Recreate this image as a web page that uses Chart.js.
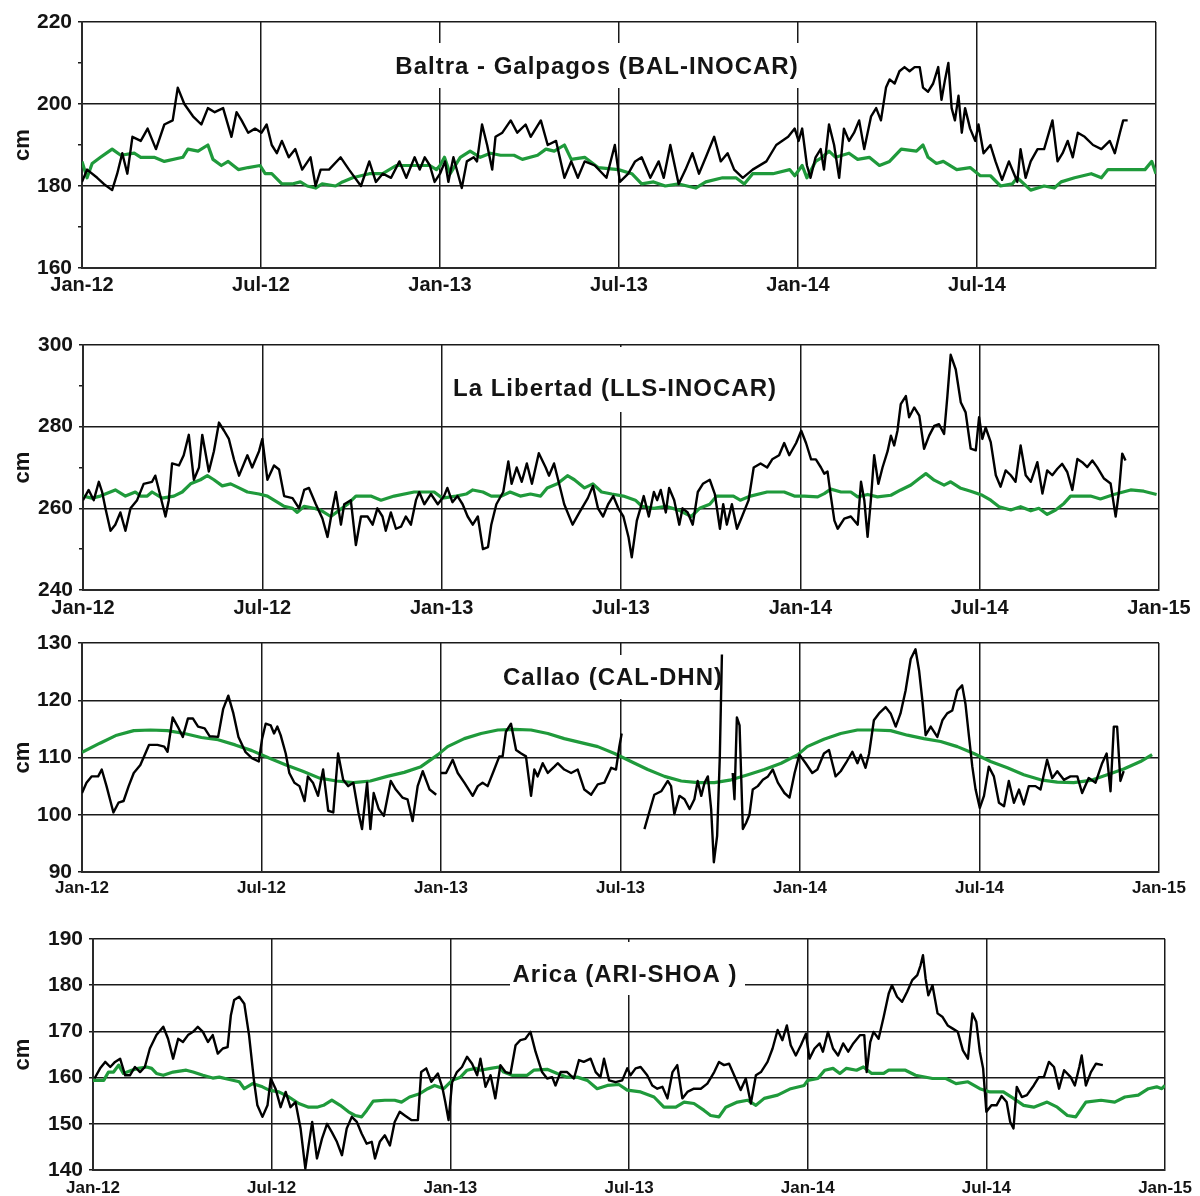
<!DOCTYPE html>
<html>
<head>
<meta charset="utf-8">
<script src="https://cdn.jsdelivr.net/npm/chart.js@4.4.1/dist/chart.umd.min.js"></script>
<style>
  html, body { margin: 0; padding: 0; background: #fff; }
  #wrap { position: relative; width: 1200px; height: 1196px; background: #fff; }
  .panel { position: absolute; left: 0; width: 1200px; }
  canvas { display: block; }
</style>
</head>
<body>
<div id="wrap">
  <div class="panel" id="p1"><canvas id="c1"></canvas></div>
  <div class="panel" id="p2"><canvas id="c2"></canvas></div>
  <div class="panel" id="p3"><canvas id="c3"></canvas></div>
  <div class="panel" id="p4"><canvas id="c4"></canvas></div>
</div>
<script>
// Time axis: months elapsed since 1 Jan 2012, one labelled tick every six months
const tickLabels = ['Jan-12', 'Jul-12', 'Jan-13', 'Jul-13', 'Jan-14', 'Jul-14', 'Jan-15'];
const monthsPerTick = 6;

// ---- Baltra - Galapagos: observed sea level [month, cm] ----
const baltraObserved = [
  [0,181],[0.17,184],[0.51,182],[0.73,180.5],[1.01,179],[1.18,183],[1.35,188],[1.52,183],[1.69,192],[1.97,191],
  [2.2,194],[2.48,189],[2.76,195],[3.04,196],[3.21,204],[3.43,200],[3.72,197],[4.0,195],[4.22,199],[4.45,198],
  [4.73,199],[5.01,192],[5.18,198],[5.35,196],[5.57,193],[5.8,194],[6.02,193],[6.19,195],[6.36,190],[6.53,188],
  [6.7,191],[6.93,187],[7.15,189],[7.38,184],[7.66,187],[7.83,180],[8.0,184],[8.28,184],[8.67,187],[8.95,184],
  [9.35,180],[9.63,186],[9.85,181],[10.08,183],[10.36,182],[10.64,186],[10.87,182],[11.15,187],[11.32,184],[11.49,187],
  [11.66,185],[11.82,181],
  [12.0,183],[12.17,186],[12.28,181],[12.45,187],[12.73,179.5],[12.9,186],[13.13,187],[13.24,186],[13.41,195],[13.58,190],
  [13.75,184],[13.86,192],[14.09,193],[14.37,196],[14.59,193],[14.87,195],[15.04,192],[15.38,196],[15.61,190],[15.89,191],
  [16.17,182],[16.4,186],[16.62,182],[16.85,186],[17.19,185],[17.58,182],[17.86,190],[18.03,181],[18.31,183],[18.54,186],
  [18.76,187],[19.05,182],[19.33,186],[19.5,182],[19.72,190],[20.0,180.5],[20.23,184],[20.46,188],[20.68,183],[20.91,187],
  [21.19,192],[21.41,186],[21.64,188],[21.86,184],[22.15,182],[22.48,184],[22.94,186],[23.27,190],[23.67,192],[23.89,194],
  [24.02,191],[24.14,194],[24.3,185],[24.42,182],[24.59,187],[24.76,189],[24.87,184],[25.04,195],[25.21,190],[25.38,182],
  [25.54,194],[25.71,191],[25.88,193],[26.05,196],[26.22,189],[26.45,197],[26.62,199],[26.78,196],[26.95,204],[27.07,206],
  [27.24,205],[27.4,208],[27.57,209],[27.74,208],[27.91,209],[28.08,209],[28.19,204],[28.36,203],[28.53,205],[28.7,209],
  [28.81,201],[28.93,206],[29.04,210],[29.15,199],[29.26,196],[29.38,202],[29.49,193],[29.6,199],[29.77,194],[29.94,191],
  [30.05,195],[30.22,188],[30.45,190],[30.62,186],[30.84,181.5],[31.07,186],[31.24,183],[31.35,181],[31.46,189],[31.63,182],
  [31.8,186],[32.03,189],[32.25,189],[32.53,196],[32.7,186],[32.87,188],[33.04,191],[33.21,187],[33.38,193],[33.61,192],
  [33.89,190],[34.17,189],[34.45,191],[34.62,188],[34.79,193],[34.9,196],[35.05,196]
];
// ---- Baltra - Galapagos: reference level [month, cm] ----
const baltraReference = [
  [0,186],[0.17,182],[0.34,185.5],[0.62,187],[1.01,189],[1.3,187.5],[1.75,188],[1.97,187],[2.42,187],[2.76,186],
  [3.38,187],[3.55,189],[3.89,188.5],[4.22,190],[4.39,186.5],[4.67,185],[4.9,186],[5.24,184],[5.57,184.5],[5.97,185],
  [6.14,183],[6.36,183],[6.7,180.5],[7.04,180.5],[7.32,181],[7.55,180],[7.83,179.5],[8.05,180.5],[8.5,180],[8.73,181],
  [9.07,182],[9.63,183],[10.08,183],[10.53,185],[11.09,185],[11.66,185],[11.88,184],[12.0,185],[12.15,187],[12.34,183],
  [12.68,187],[13.01,188.5],[13.35,187],[13.69,188],[14.03,187.5],[14.48,187.5],[14.76,186.5],[15.27,187.5],[15.55,189],[15.83,188.5],
  [16.17,190],[16.4,186.5],[16.85,187],[17.3,184.5],[17.98,184],[18.43,183],[18.76,180.5],[19.16,181],[19.55,180],[20.0,180.5],
  [20.57,179.5],[20.91,181],[21.47,182],[21.92,182],[22.2,180.5],[22.48,183],[23.16,183],[23.72,184],[23.89,182.5],[24.14,185],
  [24.3,182],[24.59,186],[24.81,187],[25.04,188.5],[25.26,187],[25.71,188],[26.0,186.5],[26.39,187],[26.73,185],[27.07,186],
  [27.46,189],[27.97,188.5],[28.19,190],[28.36,187],[28.64,185.5],[28.87,186],[29.32,184],[29.77,184.5],[30.11,182.5],[30.45,182.5],
  [30.79,180],[31.18,180.5],[31.35,182],[31.8,179],[32.25,180],[32.59,179.5],[32.82,181],[33.27,182],[33.83,183],[34.17,182],
  [34.39,184],[34.96,184],[35.63,184],[35.86,186],[36,183]
];

// ---- La Libertad: observed sea level [month, cm] ----
const libertadObserved = [
  [0,262],[0.19,264.5],[0.36,262],[0.53,266.5],[0.64,264],[0.75,260],[0.92,254.5],[1.08,256],[1.25,259],[1.42,254.5],
  [1.59,260],[1.81,262],[2.03,266],[2.31,266.5],[2.42,268],[2.59,263],[2.76,258],[2.87,262],[2.98,271],[3.21,270.5],
  [3.37,273],[3.54,278],[3.71,267],[3.88,270],[3.99,278],[4.21,269],[4.38,274],[4.55,281],[4.72,279],[4.88,277],
  [5.05,272],[5.22,268],[5.5,273],[5.66,270],[5.89,274],[6.0,277],[6.17,267],[6.39,270.5],[6.56,269.5],[6.73,263],
  [7.01,262.5],[7.23,260],[7.4,264.5],[7.56,265],[7.79,261],[8.01,257.5],[8.18,253],[8.35,260],[8.46,264],[8.63,256],
  [8.74,261],[8.96,262],[9.13,251],[9.3,258],[9.52,258],[9.69,256],[9.85,260],[10.02,258],[10.13,254.5],[10.3,259],
  [10.47,255],[10.64,255.5],[10.8,258],[10.97,256],[11.14,262],[11.25,264],[11.42,261],[11.64,263.5],[11.87,261],
  [12.08,263],[12.19,265],[12.36,261.5],[12.53,263],[12.7,261],[12.87,258],[13.04,256],[13.21,258],[13.38,250],[13.55,250.5],
  [13.66,256],[13.83,261],[14.06,264],[14.23,271.5],[14.34,266],[14.51,270],[14.68,266.5],[14.85,271],[15.02,266],[15.25,273.5],
  [15.48,270],[15.59,268],[15.76,271],[15.93,266],[16.1,261],[16.38,256],[16.61,259],[16.89,262.5],[17.06,265.5],[17.23,260],
  [17.4,258],[17.57,261],[17.74,263],[17.91,260],[18.08,258],[18.25,253],[18.36,248],[18.53,257],[18.65,260],[18.76,263],
  [18.93,258],[19.1,264],[19.21,262],[19.33,264.5],[19.5,259],[19.61,265],[19.78,262],[19.95,256],[20.06,260],[20.23,259],
  [20.4,256],[20.57,264],[20.74,266],[20.97,267],[21.14,263.5],[21.31,255],[21.42,261],[21.54,256],[21.71,261],[21.88,255],
  [22.05,258],[22.27,262],[22.44,270],[22.67,271],[22.89,270],[23.06,272],[23.29,273],[23.46,276],[23.63,273],[23.86,276],
  [24.03,279],[24.19,276],[24.36,272],[24.52,272],[24.69,270],[24.8,268.5],[24.91,269],[25.02,263],[25.14,257],[25.25,255],
  [25.47,257.5],[25.69,258],[25.92,256],[26.03,266.5],[26.14,262],[26.25,253],[26.36,262],[26.47,273],[26.61,266],[26.75,270],
  [26.92,274],[27.03,277.8],[27.14,275.4],[27.25,279],[27.36,285.5],[27.53,287.5],[27.64,282.3],[27.81,284.7],[27.98,282.7],[28.14,274.6],
  [28.31,277.8],[28.48,280.2],[28.64,280.6],[28.81,278.2],[28.92,287.5],[29.03,297.6],[29.2,294],[29.37,285.9],[29.53,283.5],[29.7,274.6],
  [29.87,274.2],[29.98,282.3],[30.09,277],[30.2,279.8],[30.37,276.2],[30.54,268.1],[30.7,265.3],[30.87,269.3],[31.04,268.1],[31.2,266.5],
  [31.37,275.4],[31.54,268.1],[31.71,266.5],[31.93,271.3],[32.1,263.6],[32.26,269.3],[32.43,268.1],[32.6,269.7],[32.76,270.9],[32.93,268.9],
  [33.1,264.5],[33.27,272.1],[33.43,271.3],[33.6,270.1],[33.77,271.7],[33.93,270.1],[34.16,267.3],[34.38,266.1],[34.55,258],[34.66,264],
  [34.77,273.4],[34.88,271.7]
];
// ---- La Libertad: reference level [month, cm] ----
const libertadReference = [
  [0,263],[0.3,262.5],[0.58,263],[1.08,264.5],[1.42,263],[1.75,264],[1.92,263],[2.15,263],[2.31,264],[2.65,262.5],
  [3.04,263],[3.32,264],[3.6,266],[3.93,267],[4.16,268],[4.38,267],[4.66,265.5],[4.94,266],[5.22,265],[5.5,264],
  [5.89,263.5],[6.17,263],[6.5,261.5],[6.73,260.5],[7.01,260],[7.17,259],[7.4,260.5],[7.73,260],[7.96,259.5],[8.29,258],
  [8.57,259.5],[8.85,261],[9.13,263],[9.63,263],[9.97,262],[10.41,263],[11.08,264],[11.75,264],[12.02,262.5],[12.48,263],
  [12.82,263.5],[13.04,264.5],[13.38,264],[13.66,263],[14.0,263],[14.29,264],[14.63,263],[14.97,263.5],[15.31,263],[15.53,265],
  [15.87,266],[16.21,268],[16.44,267],[16.78,265],[17.06,266],[17.35,264],[17.69,263.5],[18.08,263],[18.48,262],[18.7,260.5],
  [19.1,260],[19.5,260.5],[19.95,259.5],[20.35,258],[20.63,260],[20.97,261],[21.2,263],[21.76,263],[21.99,262],[22.33,263],
  [22.89,264],[23.46,264],[23.8,263],[24.13,263],[24.58,262.8],[24.8,263.6],[25.02,264.7],[25.36,264],[25.69,264],[25.92,262.8],
  [26.25,263.4],[26.58,262.8],[27.03,263.2],[27.36,264.5],[27.7,265.7],[27.98,267.3],[28.2,268.5],[28.48,266.9],[28.81,265.7],[29.03,266.5],
  [29.37,264.9],[29.7,264.2],[30.09,263.2],[30.37,262],[30.65,260.4],[31.04,259.6],[31.37,260.4],[31.71,259.4],[31.98,260],[32.26,258.5],
  [32.54,259.6],[32.82,261.2],[33.04,263],[33.71,263],[34.04,262.3],[34.49,263.4],[35.05,264.5],[35.49,264.2],[35.92,263.4]
];

// ---- Callao: observed sea level [month, cm]; null marks a break in the record ----
const callaoObserved = [
  [0,103.8],[0.15,105.6],[0.32,106.7],[0.54,106.7],[0.66,107.9],[0.82,105],[1.05,100.4],[1.22,102.1],[1.39,102.4],[1.56,105],
  [1.73,107.3],[1.95,108.7],[2.24,112.2],[2.52,112.2],[2.75,111.9],[2.86,111],[3.03,117],[3.2,115.4],[3.37,113.6],[3.54,116.8],
  [3.71,116.8],[3.88,115.4],[4.1,115.1],[4.27,113.7],[4.55,113.6],[4.72,118.5],[4.89,120.8],[5.06,117.7],[5.23,113.6],[5.46,111],
  [5.68,109.9],[5.91,109.3],[6.02,113.3],[6.14,115.9],[6.31,115.6],[6.42,114.2],[6.53,115.4],[6.64,113.9],[6.81,110.7],[6.93,107.3],
  [7.1,105.6],[7.27,105],[7.44,102.4],[7.55,106.7],[7.72,105.6],[7.89,103.3],[8.06,107.9],[8.23,100.7],[8.4,100.4],[8.56,110.7],
  [8.73,106.1],[8.9,105],[9.07,105.6],[9.24,100.4],[9.36,97.5],[9.53,105.6],[9.64,97.5],[9.75,103.8],[9.92,101],[10.09,99.8],
  [10.32,105.9],[10.49,104.4],[10.71,103],[10.88,102.7],[11.05,98.9],[11.22,105],[11.39,107.6],[11.62,104.4],[11.84,103.5],
  [11.92,null],
  [12.0,107.3],[12.17,107.3],[12.39,109.6],[12.56,107.3],[12.78,105.6],[13.06,103.3],[13.23,105],[13.39,105.6],[13.56,105],[13.78,107.9],
  [13.95,110.2],[14.06,110.2],[14.17,114.5],[14.34,115.9],[14.51,111.3],[14.68,110.7],[14.84,110.2],[15.01,103.3],[15.12,107.9],[15.23,106.7],
  [15.4,109],[15.57,107.3],[15.79,108.4],[15.9,109],[16.12,107.9],[16.35,107.3],[16.57,107.9],[16.79,104.4],[17.02,103.5],[17.24,105.3],
  [17.46,105.6],[17.69,108.2],[17.85,107.9],[17.96,111.9],[18.04,114.2],
  [18.4,null],
  [18.8,97.5],[19.02,101.5],[19.13,103.5],[19.36,104.1],[19.58,105.9],[19.69,105],[19.8,100.1],[19.97,103.3],[20.14,102.7],[20.31,101],
  [20.47,102.7],[20.58,105.9],[20.7,103.3],[20.81,105.6],[20.92,106.7],[21.03,101],[21.12,91.7],[21.23,96.3],[21.32,110.2],[21.39,128],
  [21.55,null],
  [21.75,107.3],[21.81,102.7],[21.89,117],[21.98,115.6],[22.09,97.5],[22.2,98.6],[22.31,100],[22.42,104.4],[22.59,105],[22.76,106.1],
  [22.93,106.7],[23.09,107.9],[23.26,105.6],[23.48,103.8],[23.65,103],[23.82,107.3],[23.98,110.5],[24.19,109],[24.41,107.3],[24.58,107.9],
  [24.8,110.7],[24.97,111.3],[25.19,106.7],[25.36,107.6],[25.53,109],[25.75,111],[25.92,109],[26.03,110.5],[26.19,108.2],[26.31,110.7],
  [26.47,116.5],[26.64,117.7],[26.86,118.8],[27.03,117.7],[27.2,115.4],[27.36,117.7],[27.53,121.7],[27.7,127.2],[27.86,128.9],[27.98,125.2],
  [28.09,120],[28.2,113.9],[28.37,115.4],[28.59,113.6],[28.76,116.5],[28.92,117.7],[29.09,118.2],[29.26,121.7],[29.42,122.6],[29.53,119.4],
  [29.65,113.6],[29.76,108.4],[29.87,104.4],[30.01,101.2],[30.15,103.3],[30.31,108.4],[30.48,106.7],[30.65,102.1],[30.82,101.5],[30.98,105.9],
  [31.15,102.1],[31.32,104.4],[31.48,101.8],[31.65,105],[31.87,105],[32.04,104.4],[32.26,109.6],[32.43,106.4],[32.6,107.6],[32.82,106.1],
  [33.04,106.7],[33.27,106.7],[33.43,103.8],[33.65,106.4],[33.88,105.6],[34.1,109],[34.25,110.7],[34.38,104.1],[34.49,115.4],[34.6,115.4],
  [34.71,105.9],[34.82,107.6]
];
// ---- Callao: reference level [month, cm] ----
const callaoReference = [
  [0,110.9],[0.6,112.5],[1.16,113.9],[1.73,114.7],[2.29,114.8],[2.86,114.7],[3.42,114.2],[3.99,113.5],[4.55,113.1],[5.12,112.2],
  [5.68,111.2],[6.25,109.9],[6.82,108.7],[7.38,107.6],[7.94,106.4],[8.51,105.9],[9.07,105.6],[9.64,105.9],[10.2,106.7],[10.77,107.4],
  [11.33,108.4],[11.9,110.5],[12.22,111.9],[12.78,113.3],[13.34,114.2],[13.9,114.8],[14.45,114.9],[15.01,114.8],[15.57,114.2],[16.12,113.3],
  [16.68,112.6],[17.24,111.9],[17.8,110.7],[18.35,109.3],[18.91,107.9],[19.47,106.7],[20.03,105.9],[20.58,105.6],[21.14,105.6],[21.7,106.1],
  [22.26,107],[22.81,107.9],[23.37,109],[23.93,110.5],[24.24,111.9],[24.8,113.2],[25.36,114.2],[25.92,114.8],[26.47,114.8],[27.03,114.7],
  [27.59,113.9],[28.14,113.3],[28.7,112.8],[29.26,111.9],[29.81,110.7],[30.37,109.3],[30.93,108.2],[31.48,107],[32.04,106.1],[32.6,105.7],
  [33.15,105.6],[33.71,106],[34.27,107],[34.82,108],[35.38,109.3],[35.77,110.5]
];

// ---- Arica: observed sea level [month, cm] ----
const aricaObserved = [
  [0.05,159.8],[0.24,162],[0.41,163.4],[0.58,162.3],[0.74,163.4],[0.91,164.1],[1.08,160.5],[1.24,160.5],[1.41,162.3],[1.58,161.2],
  [1.74,162.3],[1.91,166.3],[2.13,169.2],[2.36,171],[2.52,168.4],[2.69,164.1],[2.86,168.4],[3.02,167.7],[3.19,169.2],[3.36,169.9],
  [3.52,171],[3.69,169.9],[3.86,167.7],[4.02,169.2],[4.19,165.2],[4.36,166.3],[4.52,166.6],[4.63,173.5],[4.74,176.8],[4.91,177.5],
  [5.08,176],[5.24,169.2],[5.41,159.1],[5.52,154],[5.69,151.5],[5.86,154],[5.97,159.8],[6.13,157.6],[6.3,153.6],[6.47,156.9],
  [6.63,153.6],[6.8,154.7],[6.97,149],[7.13,140.3],[7.24,145.3],[7.36,150.4],[7.52,142.5],[7.69,146.8],[7.86,150],[8.02,148.2],
  [8.19,146.1],[8.36,143.2],[8.52,149],[8.69,151.5],[8.86,150.4],[9.02,147.9],[9.19,145.7],[9.36,146.1],[9.47,142.5],[9.63,146.1],
  [9.8,147.5],[9.97,145.3],[10.13,150.4],[10.3,152.6],[10.47,151.8],[10.69,150.8],[10.91,150.8],[11.02,161.2],[11.19,162],[11.36,159.1],
  [11.58,160.9],[11.74,157.6],[11.83,154.7],[11.94,150.8],[12.06,159],[12.22,161.2],[12.39,162.3],[12.56,164.5],[12.73,163],[12.9,160.5],
  [13.01,164.1],[13.18,158],[13.35,160.5],[13.51,155.5],[13.68,162.7],[13.85,161.2],[14.02,160.9],[14.19,167],[14.35,168.1],[14.52,168.4],
  [14.69,169.9],[14.86,165.6],[15.08,161.2],[15.25,159.8],[15.42,160.1],[15.53,158.3],[15.7,161.2],[15.92,161.2],[16.15,159.8],[16.32,163.8],
  [16.48,163.4],[16.71,164.1],[16.88,161.2],[17.04,160.1],[17.16,164.1],[17.33,159.4],[17.55,159],[17.77,159.4],[17.94,162],[18.05,160.5],
  [18.22,162],[18.39,162.3],[18.61,160.5],[18.78,158.3],[18.95,157.6],[19.12,158],[19.29,155.5],[19.46,161.2],[19.62,162.7],[19.79,155.5],
  [19.96,156.9],[20.18,157.6],[20.41,157.6],[20.63,158.7],[20.86,161.2],[21.02,163.4],[21.19,162.7],[21.36,163],[21.53,160.5],[21.75,157.3],
  [21.92,159.8],[22.09,154.4],[22.26,160.5],[22.43,161.2],[22.65,163.4],[22.82,166.3],[22.99,170.3],[23.15,168.1],[23.3,171.3],[23.43,167],
  [23.6,164.8],[23.77,167],[23.94,169.5],[24.06,164.1],[24.23,166.3],[24.4,167.4],[24.51,165.6],[24.68,169.9],[24.85,166.3],[25.02,164.8],
  [25.19,167.4],[25.36,165.6],[25.53,167.4],[25.76,169.2],[25.9,169.2],[25.98,161.2],[26.1,167.7],[26.21,169.9],[26.38,168.4],[26.55,173.1],
  [26.72,178.2],[26.83,180],[27.0,177.5],[27.17,176.4],[27.34,178.6],[27.51,181.1],[27.68,182.2],[27.79,184.3],[27.87,186.5],[27.96,181.4],
  [28.05,177.8],[28.19,180],[28.36,173.9],[28.53,173.1],[28.7,171.3],[28.87,170.6],[29.04,169.9],[29.21,165.9],[29.38,164.1],[29.53,173.9],
  [29.66,172.1],[29.78,165.6],[29.89,162],[30.0,152.6],[30.17,154],[30.34,154],[30.51,156],[30.68,154.7],[30.8,150.4],[30.91,149],
  [31.02,158],[31.19,155.8],[31.36,156.2],[31.59,158.3],[31.76,160.1],[31.93,160.1],[32.1,163.4],[32.27,162.3],[32.44,157.6],[32.61,161.6],
  [32.83,160.1],[32.97,158.3],[33.12,162.3],[33.2,164.8],[33.34,158.3],[33.51,161.2],[33.68,163],[33.91,162.7]
];
// ---- Arica: reference level [month, cm] ----
const aricaReference = [
  [0,159.4],[0.36,159.4],[0.52,161.2],[0.69,161.2],[0.86,162.7],[1.02,160.9],[1.3,161.6],[1.52,162],[1.8,162.3],[1.97,162],
  [2.13,160.9],[2.36,160.5],[2.69,161.2],[3.13,161.6],[3.36,161.2],[3.69,160.5],[4.02,159.9],[4.24,160.1],[4.58,159.6],[4.91,159.1],
  [5.08,157.6],[5.36,158.7],[5.69,158],[5.91,157.3],[6.24,156.9],[6.58,155.8],[6.91,154.4],[7.24,153.6],[7.52,153.6],[7.74,154],
  [8.02,155.1],[8.3,154],[8.58,152.6],[8.8,151.8],[9.02,151.5],[9.19,152.9],[9.41,154.9],[9.8,155.1],[10.13,155.1],[10.36,154.7],
  [10.63,155.8],[10.97,156.5],[11.24,157.6],[11.47,158.3],[11.78,157.6],[12.06,159.4],[12.34,160.1],[12.56,161.6],[12.84,162],[13.01,161.6],
  [13.35,162],[13.63,162.3],[13.79,161.2],[14.07,160.5],[14.58,160.5],[14.8,161.6],[15.25,161.8],[15.59,160.9],[15.92,160.1],[16.26,160.1],
  [16.6,159.4],[16.93,157.6],[17.27,158.3],[17.66,158.5],[17.94,157.3],[18.39,156.9],[18.84,155.8],[19.17,153.6],[19.57,153.6],[19.85,154.7],
  [20.18,154.4],[20.52,152.9],[20.74,151.8],[21.02,151.5],[21.25,153.6],[21.64,154.7],[21.98,155.1],[22.26,154],[22.54,155.5],[22.99,156.2],
  [23.43,157.6],[23.88,158.3],[24.0,159.4],[24.34,159.8],[24.57,161.6],[24.85,162],[25.08,160.9],[25.3,162],[25.64,161.6],[25.87,162.3],
  [26.15,160.9],[26.55,160.9],[26.72,161.6],[27.28,161.6],[27.62,160.5],[28.19,159.8],[28.64,159.8],[28.98,158.7],[29.38,159.1],[29.78,157.6],
  [30.12,156.9],[30.57,156.9],[30.91,155.5],[31.25,154],[31.59,153.6],[32.04,154.7],[32.38,153.6],[32.72,151.8],[33.0,151.5],[33.34,154.7],
  [33.85,155.1],[34.31,154.7],[34.65,155.8],[35.1,156.2],[35.44,157.6],[35.72,158],[35.89,157.6],[36,158.3]
];

// ---- Page layout of the four stacked panels (page pixels) ----
const FONT = "'Liberation Sans', Arial, Helvetica, sans-serif";
const INK = '#141414';
const OBS_COLOR = '#000000';
const REF_COLOR = '#1f9a3b';

const panels = [
  { canvas: 'c1', holder: 'p1', top: 0, height: 300, left: 82, right: 1156, plotTop: 22, plotBottom: 268,
    yMin: 160, yMax: 220, yStep: 10, yMajor: 20, xFont: 20, xPad: 5, showLastTick: false,
    title: 'Baltra - Galpagos (BAL-INOCAR)', titleX: 597, titleY: 67, titleSize: 24, box: [385, 43, 808, 88],
    observed: baltraObserved, reference: baltraReference },
  { canvas: 'c2', holder: 'p2', top: 300, height: 322, left: 83, right: 1159, plotTop: 345, plotBottom: 590,
    yMin: 240, yMax: 300, yStep: 10, yMajor: 20, xFont: 20, xPad: 6, showLastTick: true,
    title: 'La Libertad (LLS-INOCAR)', titleX: 615, titleY: 389, titleSize: 24, box: [445, 347, 785, 412],
    observed: libertadObserved, reference: libertadReference },
  { canvas: 'c3', holder: 'p3', top: 622, height: 278, left: 82, right: 1159, plotTop: 643, plotBottom: 872,
    yMin: 90, yMax: 130, yStep: 10, yMajor: 10, xFont: 17, xPad: 6, showLastTick: true,
    title: 'Callao (CAL-DHN)', titleX: 613, titleY: 678, titleSize: 24, box: [495, 655, 735, 699],
    observed: callaoObserved, reference: callaoReference },
  { canvas: 'c4', holder: 'p4', top: 900, height: 296, left: 93, right: 1171, plotTop: 939, plotBottom: 1170,
    yMin: 140, yMax: 190, yStep: 10, yMajor: 10, xFont: 17, xPad: 8, showLastTick: true,
    title: 'Arica (ARI-SHOA )', titleX: 625, titleY: 975, titleSize: 24, box: [510, 942, 745, 995],
    observed: aricaObserved, reference: aricaReference }
];

// Station name drawn inside the plot on a white patch that interrupts the grid
const stationTitle = {
  id: 'stationTitle',
  beforeDatasetsDraw(chart, args, opts) {
    const ctx = chart.ctx;
    const b = opts.box;
    ctx.save();
    ctx.fillStyle = '#ffffff';
    ctx.fillRect(b[0], b[1], b[2] - b[0], b[3] - b[1]);
    ctx.font = 'bold ' + opts.size + 'px ' + FONT;
    if ('letterSpacing' in ctx) ctx.letterSpacing = '1px';
    ctx.fillStyle = INK;
    ctx.textAlign = 'center';
    ctx.textBaseline = 'middle';
    ctx.fillText(opts.text, opts.x, opts.y);
    ctx.restore();
  }
};

function toPoints(pairs) {
  return pairs.map(p => ({ x: p[0], y: p[1] }));
}

panels.forEach(P => {
  const holder = document.getElementById(P.holder);
  holder.style.top = P.top + 'px';
  holder.style.height = P.height + 'px';
  const cv = document.getElementById(P.canvas);
  cv.width = 1200;
  cv.height = P.height;
  cv.style.width = '1200px';
  cv.style.height = P.height + 'px';

  const relTop = P.plotTop - P.top;
  const relBottom = P.plotBottom - P.top;

  new Chart(cv, {
    type: 'line',
    data: {
      datasets: [
        { label: 'observed', data: toPoints(P.observed), borderColor: OBS_COLOR, borderWidth: 2.4,
          pointRadius: 0, tension: 0, spanGaps: false, borderJoinStyle: 'round', order: 0 },
        { label: 'reference', data: toPoints(P.reference), borderColor: REF_COLOR, borderWidth: 3.2,
          pointRadius: 0, tension: 0, borderJoinStyle: 'round', order: 1 }
      ]
    },
    plugins: [stationTitle],
    options: {
      responsive: false,
      animation: false,
      events: [],
      layout: { padding: { top: relTop, right: 1200 - P.right, left: 0, bottom: 0 } },
      plugins: {
        legend: { display: false },
        tooltip: { enabled: false },
        stationTitle: {
          text: P.title, size: P.titleSize, x: P.titleX, y: P.titleY - P.top,
          box: [P.box[0], P.box[1] - P.top, P.box[2], P.box[3] - P.top]
        }
      },
      scales: {
        x: {
          type: 'linear', min: 0, max: monthsPerTick * (tickLabels.length - 1),
          afterFit(s) { s.height = P.height - relBottom; },
          ticks: {
            stepSize: monthsPerTick, autoSkip: false, maxRotation: 0, minRotation: 0,
            color: INK, padding: P.xPad,
            font: { family: FONT, weight: 'bold', size: P.xFont },
            callback(v) {
              const i = Math.round(v / monthsPerTick);
              if (!P.showLastTick && i === tickLabels.length - 1) return '';
              return tickLabels[i];
            }
          },
          grid: { color: '#1a1a1a', lineWidth: 1.5, drawTicks: false },
          border: { color: '#2a2a2a', width: 2 }
        },
        y: {
          type: 'linear', min: P.yMin, max: P.yMax,
          afterFit(s) { s.width = P.left; },
          ticks: {
            stepSize: P.yStep, autoSkip: false, color: INK, padding: 6,
            font: { family: FONT, weight: 'bold', size: 21 },
            callback(v) { return v % P.yMajor === 0 ? String(v) : ''; }
          },
          grid: {
            color: c => (c.tick && c.tick.value % P.yMajor === 0) ? '#1a1a1a' : 'rgba(0,0,0,0)',
            tickColor: '#1a1a1a', tickLength: 4, lineWidth: 1.5
          },
          border: { color: '#2a2a2a', width: 2 },
          title: {
            display: true, text: 'cm', color: INK,
            font: { family: FONT, weight: 'bold', size: 22 },
            padding: { top: 10, bottom: 0 }
          }
        }
      }
    }
  });
});
</script>
</body>
</html>
